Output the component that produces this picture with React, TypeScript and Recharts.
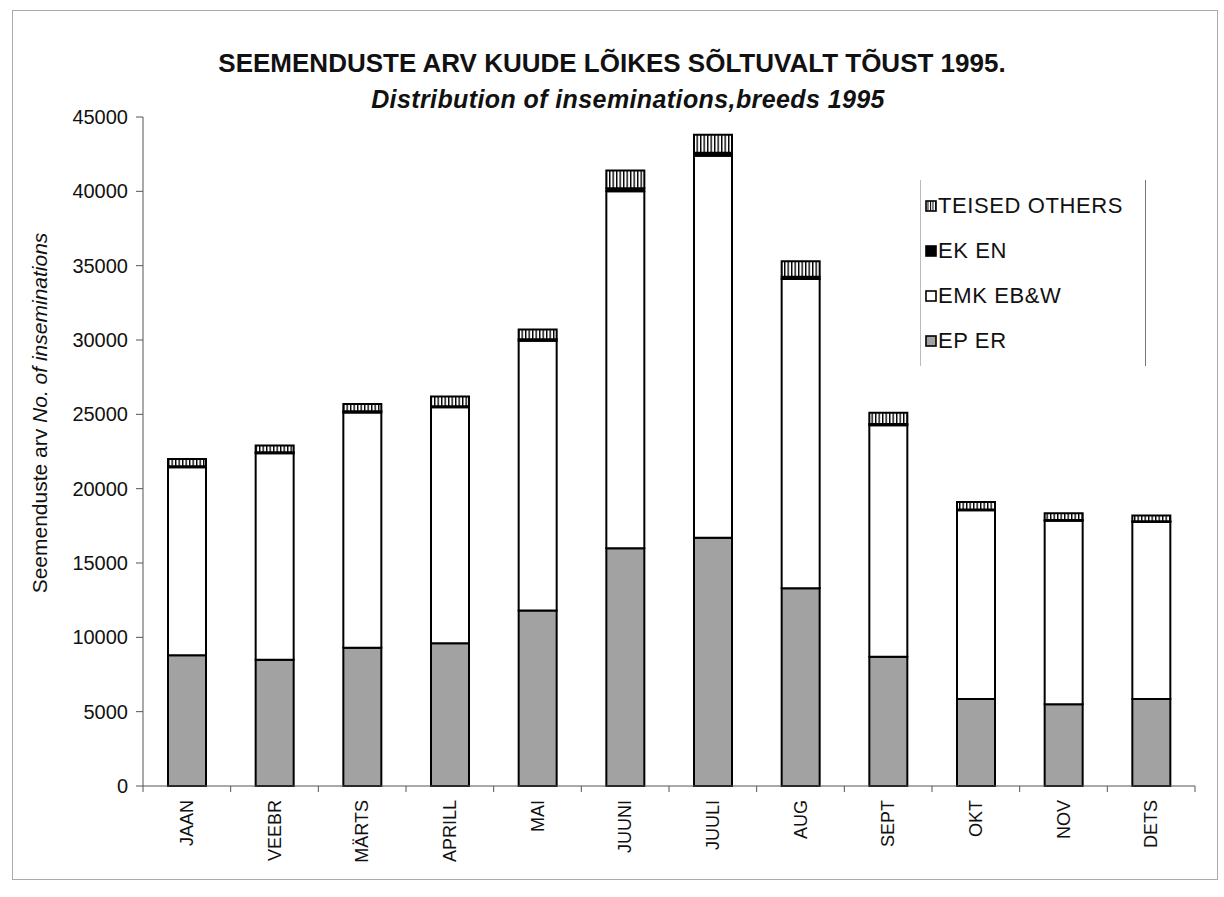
import { BarChart, Bar, XAxis, YAxis } from 'recharts';

const months = ['JAAN', 'VEEBR', 'MÄRTS', 'APRILL', 'MAI', 'JUUNI', 'JUULI', 'AUG', 'SEPT', 'OKT', 'NOV', 'DETS'];
const epEr = [8800, 8500, 9300, 9600, 11800, 16000, 16700, 13300, 8700, 5850, 5500, 5850];
const emkEbw = [12640, 13890, 15820, 15870, 18150, 24000, 25700, 20800, 15570, 12690, 12350, 11900];
const ekEn = [60, 60, 80, 80, 100, 200, 200, 150, 80, 60, 50, 50];
const teised = [500, 450, 500, 650, 650, 1200, 1200, 1050, 750, 500, 450, 400];
const yTicks = [0, 5000, 10000, 15000, 20000, 25000, 30000, 35000, 40000, 45000];

const data = months.map((m, i) => ({
  kuu: m,
  ep: epEr[i],
  emk: emkEbw[i],
  ek: ekEn[i],
  teised: teised[i],
}));

const FONT = '"Liberation Sans", Arial, sans-serif';
const BAND = 1052 / 12;

const legendItems = [
  { label: 'TEISED OTHERS', fill: 'url(#hatchL)' },
  { label: 'EK EN', fill: '#000' },
  { label: 'EMK EB&W', fill: '#fff' },
  { label: 'EP ER', fill: '#a2a2a2' },
];

function MonthTick(props: any) {
  const { x, y, payload, index } = props;
  const half = BAND / 2;
  return (
    <g>
      <line x1={x - half} y1={y} x2={x - half} y2={y + 6} stroke="#555" />
      {index === months.length - 1 && (
        <line x1={x + half} y1={y} x2={x + half} y2={y + 6} stroke="#555" />
      )}
      <text
        x={x}
        y={y + 14}
        transform={`rotate(-90, ${x}, ${y + 14})`}
        textAnchor="end"
        dominantBaseline="central"
        fontSize={18}
        fontFamily={FONT}
        fill="#111"
      >
        {payload.value}
      </text>
    </g>
  );
}

function LegendBox() {
  return (
    <div style={{ position: 'absolute', left: 920, top: 180, width: 226, height: 186, fontFamily: FONT }}>
      <div style={{ position: 'absolute', left: 0, top: 0, width: 1, height: 186, background: '#bbb' }} />
      <div style={{ position: 'absolute', right: 0, top: 0, width: 1, height: 186, background: '#777' }} />
      {legendItems.map((it, i) => (
        <div
          key={it.label}
          style={{ position: 'absolute', left: 5, top: 26 + i * 45 - 13, height: 26, display: 'flex', alignItems: 'center' }}
        >
          <svg width={12} height={12} style={{ marginRight: 1 }}>
            <defs>
              <pattern id="hatchL" width={2.5} height={4} patternUnits="userSpaceOnUse">
                <rect width={2.5} height={4} fill="#fff" />
                <rect width={1} height={4} fill="#000" />
              </pattern>
            </defs>
            <rect x={1} y={1} width={10} height={10} fill={it.fill} stroke="#000" strokeWidth={1.6} />
          </svg>
          <span style={{ fontSize: 22, letterSpacing: 0.6, color: '#111', whiteSpace: 'nowrap' }}>{it.label}</span>
        </div>
      ))}
    </div>
  );
}

export default function App() {
  return (
    <div style={{ position: 'absolute', left: 0, top: 0, width: 1224, height: 897, background: '#fff', fontFamily: FONT }}>
      <div style={{ position: 'absolute', left: 12, top: 10, width: 1204, height: 868, border: '1px solid #aaa' }} />
      <div style={{ position: 'absolute', left: 0, width: 1224, top: 48, textAlign: 'center', fontSize: 26, fontWeight: 'bold', color: '#111' }}>
        SEEMENDUSTE ARV KUUDE LÕIKES SÕLTUVALT TÕUST 1995.
      </div>
      <div style={{ position: 'absolute', left: 0, width: 1224, top: 85, textAlign: 'center', fontSize: 25, fontWeight: 'bold', fontStyle: 'italic', letterSpacing: 0.4, color: '#111', paddingLeft: 16 }}>
        Distribution of inseminations,breeds 1995
      </div>
      <div
        style={{
          position: 'absolute',
          left: 40,
          top: 413,
          transform: 'translate(-50%, -50%) rotate(-90deg)',
          whiteSpace: 'nowrap',
          fontSize: 21,
          color: '#111',
        }}
      >
        Seemenduste arv <i>No. of inseminations</i>
      </div>
      <BarChart
        width={1224}
        height={897}
        data={data}
        margin={{ top: 117, right: 29, left: 43, bottom: 5 }}
        barSize={38}
        style={{ position: 'absolute', left: 0, top: 0 }}
      >
        <defs>
          <pattern id="hatch" width={3.5} height={4} patternUnits="userSpaceOnUse">
            <rect width={3.5} height={4} fill="#fff" />
            <rect width={1.4} height={4} fill="#000" />
          </pattern>
        </defs>
        <XAxis
          dataKey="kuu"
          interval={0}
          height={106}
          tickSize={0}
          tickMargin={0}
          tickLine={false}
          axisLine={{ stroke: '#555' }}
          tick={<MonthTick />}
        />
        <YAxis
          width={100}
          domain={[0, 45000]}
          ticks={yTicks}
          interval={0}
          tickSize={7}
          tickMargin={8}
          axisLine={{ stroke: '#555' }}
          tickLine={{ stroke: '#555' }}
          tick={{ fontSize: 20, fill: '#111', fontFamily: FONT }}
        />
        <Bar dataKey="ep" stackId="a" fill="#a2a2a2" stroke="#000" strokeWidth={2} isAnimationActive={false} />
        <Bar dataKey="emk" stackId="a" fill="#fff" stroke="#000" strokeWidth={2} isAnimationActive={false} />
        <Bar dataKey="ek" stackId="a" fill="#000" stroke="#000" strokeWidth={2} isAnimationActive={false} />
        <Bar dataKey="teised" stackId="a" fill="url(#hatch)" stroke="#000" strokeWidth={2} isAnimationActive={false} />
      </BarChart>
      <LegendBox />
    </div>
  );
}
